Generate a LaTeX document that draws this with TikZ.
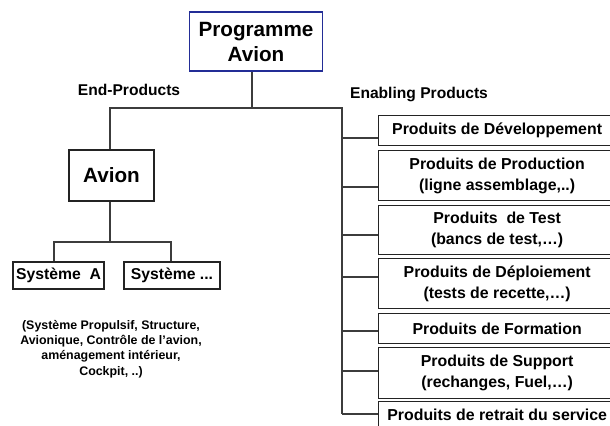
\documentclass[tikz,border=0pt]{standalone}
\usepackage{fontspec}
\setmainfont{Liberation Sans}
\definecolor{progblue}{RGB}{35,45,150}
\definecolor{linegray}{RGB}{60,60,60}
\definecolor{boxline}{RGB}{35,35,35}
\begin{document}
\begin{tikzpicture}[x=0.75pt,y=-0.75pt,
  conn/.style={draw=linegray, line width=0.95pt},
  boxbase/.style={draw=boxline, line width=0.95pt, inner sep=0pt, align=center},
  bigbox/.style={boxbase, font=\bfseries\fontsize{15.5}{18.75}\selectfont},
  sysbox/.style={boxbase, font=\bfseries\fontsize{11.8}{14}\selectfont},
  prodbox/.style={boxbase, anchor=north west, minimum width={237*0.75pt},
    font=\bfseries\fontsize{11.9}{15.75}\selectfont},
  heading/.style={font=\bfseries\fontsize{11.7}{14}\selectfont}]
\useasboundingbox (0,0) rectangle (610,425);

% top of the tree
\node[bigbox, draw=progblue, minimum width={133*0.75pt}, minimum height={59*0.75pt}]
  (prog) at (256,41.5) {Programme\\Avion};

% end products branch
\node[bigbox, minimum width={85*0.75pt}, minimum height={51*0.75pt}]
  (avion) at (111.5,175.5) {Avion};
\node[sysbox, minimum width={91*0.75pt}, minimum height={27*0.75pt}]
  (sysa) at (58.5,275.5) {Système\ \ A};
\node[sysbox, minimum width={96*0.75pt}, minimum height={27*0.75pt}]
  (sysb) at (172,275.5) {Système ...};
\node[align=center, font=\bfseries\fontsize{9.3}{11.5}\selectfont]
  (note) at (111,349) {(Système Propulsif, Structure,\\Avionique, Contrôle de l’avion,\\aménagement intérieur,\\Cockpit, ..)};

% enabling products column (right side runs past the page edge)
\node[prodbox, minimum height={30*0.75pt}] (p1) at (378,115) {Produits de Développement};
\node[prodbox, minimum height={50*0.75pt}] (p2) at (378,150) {Produits de Production\\(ligne assemblage,..)};
\node[prodbox, minimum height={49*0.75pt}] (p3) at (378,205) {Produits\ \ de Test\\(bancs de test,…)};
\node[prodbox, minimum height={50*0.75pt}] (p4) at (378,258) {Produits de Déploiement\\(tests de recette,…)};
\node[prodbox, minimum height={30*0.75pt}] (p5) at (378,313) {Produits de Formation};
\node[prodbox, minimum height={51*0.75pt}] (p6) at (378,347) {Produits de Support\\(rechanges, Fuel,…)};
\node[prodbox, minimum height={26*0.75pt}] (p7) at (378,401) {Produits de retrait du service};

% headings
\node[heading] (endlbl) at (129,90) {End-Products};
\node[heading] (enablbl) at (419,94) {Enabling Products};

% connector junctions
\coordinate (hub) at (252,108);
\coordinate (lcorner) at (110,108);
\coordinate (rcorner) at (342,108);
\coordinate (asplit) at (110,242);
\coordinate (la) at (54,242);
\coordinate (lb) at (171,242);
\coordinate (b1) at (342,138);
\coordinate (b2) at (342,187);
\coordinate (b3) at (342,235);
\coordinate (b4) at (342,277);
\coordinate (b5) at (342,331);
\coordinate (b6) at (342,371);
\coordinate (b7) at (342,414);

% connectors
\draw[conn] (prog.south -| hub) -- (hub);
\draw[conn] (avion.north -| lcorner) -- (lcorner) -- (rcorner) -- (b7);
\draw[conn] (avion.south -| asplit) -- (asplit);
\draw[conn] (sysa.north -| la) -- (la) -- (lb) -- (sysb.north -| lb);
\foreach \i in {1,...,7}
  \draw[conn] (b\i) -- (b\i -| p\i.west);
\end{tikzpicture}
\end{document}
